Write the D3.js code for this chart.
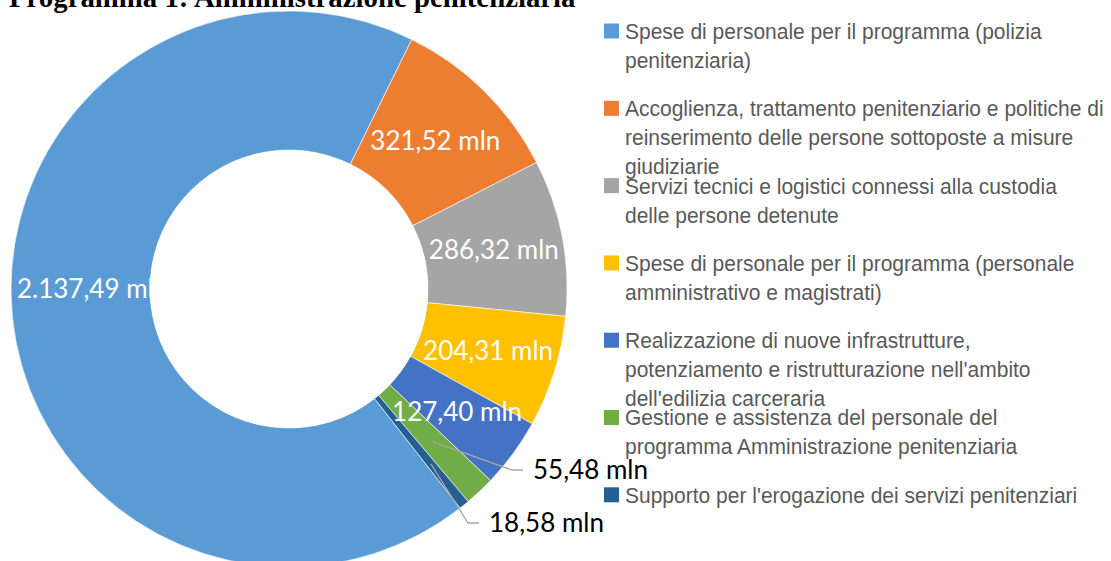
<!DOCTYPE html>
<meta charset="utf-8">
<svg width="1111" height="561"></svg>
<script src="https://d3js.org/d3.v7.min.js"></script>
<style>
  body { margin: 0; background: #fff; }
  svg { display: block; }
</style>
<script>
// spesa per azione, milioni di euro
var categories = [
  ["Spese di personale per il programma (polizia", "penitenziaria)"],
  ["Accoglienza, trattamento penitenziario e politiche di", "reinserimento delle persone sottoposte a misure", "giudiziarie"],
  ["Servizi tecnici e logistici connessi alla custodia", "delle persone detenute"],
  ["Spese di personale per il programma (personale", "amministrativo e magistrati)"],
  ["Realizzazione di nuove infrastrutture,", "potenziamento e ristrutturazione nell'ambito", "dell'edilizia carceraria"],
  ["Gestione e assistenza del personale del", "programma Amministrazione penitenziaria"],
  ["Supporto per l'erogazione dei servizi penitenziari"]
];
var values = [2137.49, 321.52, 286.32, 204.31, 127.40, 55.48, 18.58];
var valueLabels = ["2.137,49 mln", "321,52 mln", "286,32 mln", "204,31 mln", "127,40 mln", "55,48 mln", "18,58 mln"];
var colors = ["#5B9BD5", "#ED7D31", "#A5A5A5", "#FFC000", "#4472C4", "#70AD47", "#255E91"];

var svg = d3.select("svg");
var cx = 289, cy = 289, outerR = 278, innerR = 139;

svg.append("text")
    .attr("x", 9)
    .attr("y", 7)
    .style("font-family", "'Liberation Serif', 'Times New Roman', serif")
    .style("font-weight", "bold")
    .style("font-size", "28.8px")
    .attr("fill", "#000")
    .text("Programma 1: Amministrazione penitenziaria");

var startDeg = 142;
var pie = d3.pie()
    .sort(null)
    .startAngle(startDeg * Math.PI / 180)
    .endAngle((startDeg + 360) * Math.PI / 180);

var arcs = pie(values);

var arc = d3.arc().innerRadius(innerR).outerRadius(outerR);

var g = svg.append("g").attr("transform", "translate(" + cx + "," + cy + ")");

g.selectAll("path.slice")
  .data(arcs)
  .enter().append("path")
    .attr("class", "slice")
    .attr("d", arc)
    .attr("fill", function(d, i) { return colors[i]; })
    .attr("stroke", "#fff")
    .attr("stroke-width", 0.6);

var labelFont = "Lato, 'Open Sans', sans-serif";

// etichette interne (le prime cinque)
g.selectAll("text.inlabel")
  .data(arcs.slice(0, 5))
  .enter().append("text")
    .attr("class", "inlabel")
    .attr("transform", function(d, i) {
      var c = arc.centroid(d);
      if (i === 0) c = [c[0] + 11, 0];   // Excel la sposta sull'asse orizzontale
      return "translate(" + c + ")";
    })
    .attr("text-anchor", "middle")
    .attr("dy", "0.35em")
    .attr("fill", "#fff")
    .style("font-family", labelFont)
    .style("font-size", "26px")
    .text(function(d, i) { return valueLabels[i]; });

// il foro copre l'etichetta grande
g.append("circle").attr("r", innerR).attr("fill", "#fff");

// etichette esterne con linee guida
var outside = [
  {i: 5, from: 0.51, elbow: [512 - cx, 470 - cy]},
  {i: 6, from: 0.62, elbow: [468 - cx, 523 - cy]}
];
outside.forEach(function(o) {
  var d = arcs[o.i];
  var a = (d.startAngle + d.endAngle) / 2;
  var r = innerR + (outerR - innerR) * o.from;
  var p0 = [Math.sin(a) * r, -Math.cos(a) * r];
  var p2 = [o.elbow[0] + 11, o.elbow[1]];
  g.append("polyline")
      .attr("points", [p0, o.elbow, p2].map(function(p) { return p.join(","); }).join(" "))
      .attr("fill", "none")
      .attr("stroke", "#A6A6A6")
      .attr("stroke-width", 1.3);
  g.append("text")
      .attr("x", p2[0] + 10)
      .attr("y", p2[1])
      .attr("dy", "0.35em")
      .attr("fill", "#000")
      .style("font-family", labelFont)
      .style("font-size", "26px")
      .text(valueLabels[o.i]);
});

// legenda
var legend = svg.append("g")
    .style("font-family", "'Liberation Sans', Arial, sans-serif")
    .style("font-size", "22px");

var entry = legend.selectAll("g")
  .data(categories)
  .enter().append("g")
    .attr("transform", function(d, i) { return "translate(604," + (31 + i * 77.3) + ")"; });

entry.append("rect")
    .attr("x", 0).attr("y", -7.5)
    .attr("width", 15).attr("height", 15)
    .attr("fill", function(d, i) { return colors[i]; });

// testo leggermente condensato come nell'originale
entry.append("text")
    .attr("transform", "translate(21,0) scale(0.955,1)")
    .attr("fill", "#595959")
    .selectAll("tspan")
    .data(function(d) { return d; })
    .enter().append("tspan")
      .attr("x", 0)
      .attr("y", function(d, j) { return j * 29; })
      .attr("dy", "0.36em")
      .text(function(d) { return d; });
</script>
